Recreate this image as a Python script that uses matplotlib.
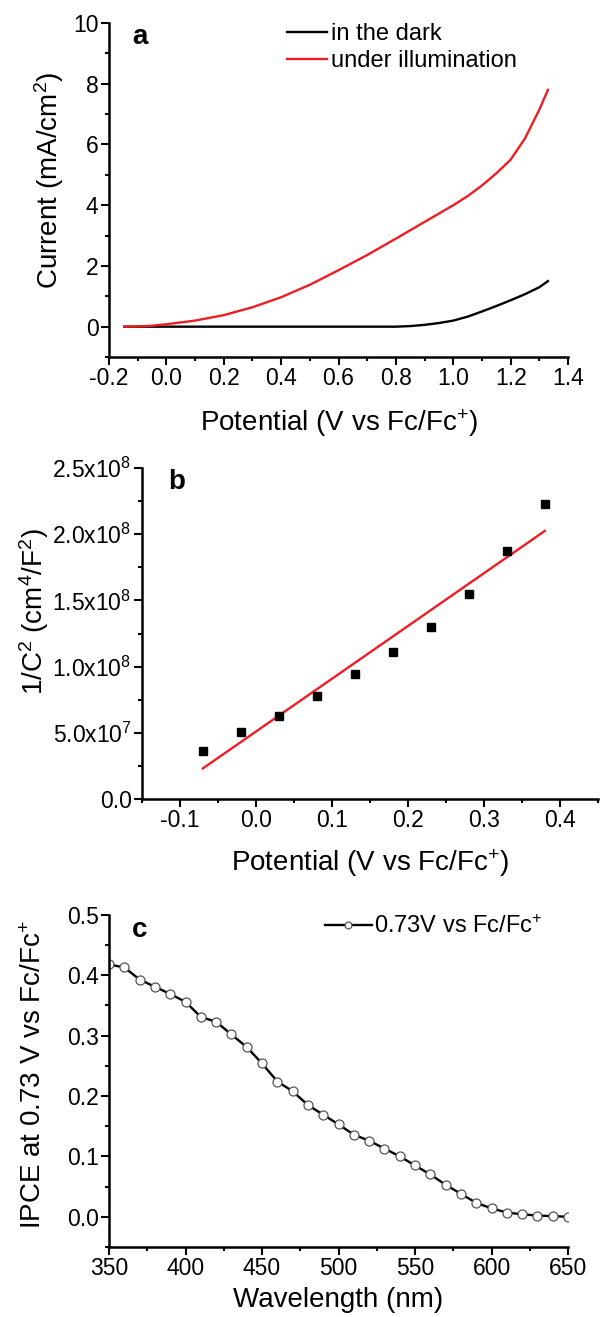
import numpy as np
import matplotlib
matplotlib.use("Agg")
import matplotlib.pyplot as plt
from matplotlib.ticker import MultipleLocator, FixedLocator, FixedFormatter

plt.rcParams['font.family'] = ['Liberation Sans', 'DejaVu Sans']
plt.rcParams['mathtext.fontset'] = 'custom'
plt.rcParams['mathtext.rm'] = 'Liberation Sans'
plt.rcParams['mathtext.it'] = 'Liberation Sans'
plt.rcParams['mathtext.default'] = 'regular'

# panel a: J-V curves
pot_light = [-0.147, -0.1, -0.05, 0.0, 0.1, 0.2, 0.3, 0.4, 0.5, 0.6, 0.7, 0.8,
             0.9, 1.0, 1.05, 1.1, 1.15, 1.2, 1.25, 1.3, 1.33]
cur_light = [0.0, 0.01, 0.03, 0.08, 0.2, 0.38, 0.64, 0.97, 1.38, 1.86, 2.36, 2.9,
             3.45, 4.0, 4.3, 4.65, 5.05, 5.5, 6.2, 7.15, 7.8]
pot_dark = [-0.147, 0.0, 0.2, 0.4, 0.6, 0.8, 0.85, 0.9, 0.95, 1.0, 1.05, 1.1,
            1.15, 1.2, 1.25, 1.3, 1.33]
cur_dark = [0.0, 0.0, 0.0, 0.0, 0.0, 0.0, 0.02, 0.06, 0.12, 0.2, 0.33, 0.5,
            0.68, 0.87, 1.07, 1.3, 1.5]

# panel b: Mott-Schottky
ms_pot = [-0.07, -0.02, 0.03, 0.08, 0.13, 0.18, 0.23, 0.28, 0.33, 0.38]
ms_inv_c2 = [0.366e8, 0.505e8, 0.63e8, 0.78e8, 0.948e8, 1.107e8, 1.30e8, 1.55e8, 1.876e8, 2.23e8]
fit_pot = [-0.07, 0.38]
fit_inv_c2 = [0.231e8, 2.025e8]
b_ticks = [0.0, 0.5e8, 1.0e8, 1.5e8, 2.0e8, 2.5e8]
b_ticklabels = ['0.0', '5.0x10$^7$', '1.0x10$^8$', '1.5x10$^8$', '2.0x10$^8$', '2.5x10$^8$']

# panel c: IPCE spectrum
wavelength = list(range(350, 651, 10))
ipce = [0.418, 0.413, 0.393, 0.381, 0.369, 0.356, 0.331, 0.323, 0.302, 0.281,
        0.254, 0.224, 0.208, 0.185, 0.169, 0.153, 0.136, 0.126, 0.113, 0.100,
        0.085, 0.070, 0.053, 0.038, 0.023, 0.014, 0.007, 0.004, 0.002, 0.001, 0.0]

RED = '#ee1d23'
TICK_FS = 16.5
LABEL_FS = 20
LEG_FS = 17


def style_axes(ax):
    for side in ('top', 'right'):
        ax.spines[side].set_visible(False)
    for side in ('left', 'bottom'):
        ax.spines[side].set_linewidth(1.8)
    ax.tick_params(which='major', direction='out', length=5.5, width=1.5,
                   labelsize=TICK_FS, pad=2)
    ax.tick_params(which='minor', direction='out', length=3.2, width=1.5)


fig = plt.figure(figsize=(6.0, 13.17), dpi=100)

# ---- a ----
ax1 = fig.add_axes([0.1817, 0.7289, 0.765, 0.2536])
ax1.plot(pot_dark, cur_dark, color='black', lw=1.7, label='in the dark')
ax1.plot(pot_light, cur_light, color=RED, lw=1.7, label='under illumination')
ax1.set_xlim(-0.2, 1.4)
ax1.set_ylim(-1, 10)
ax1.xaxis.set_major_locator(MultipleLocator(0.2))
ax1.xaxis.set_minor_locator(MultipleLocator(0.1))
ax1.yaxis.set_major_locator(MultipleLocator(2))
ax1.yaxis.set_minor_locator(MultipleLocator(1))
ax1.xaxis.set_major_formatter(lambda v, p: f'{v:.1f}')
style_axes(ax1)
ax1.set_xlabel('Potential (V vs Fc/Fc$^{+}$)', fontsize=LABEL_FS)
ax1.set_ylabel('Current (mA/cm$^{2}$)', fontsize=LABEL_FS)
ax1.xaxis.set_label_coords(0.5, -0.15)
ax1.yaxis.set_label_coords(-0.094, 0.53)
ax1.text(0.0675, 0.958, 'a', transform=ax1.transAxes, fontsize=20,
         fontweight='bold', ha='center', va='center')
ax1.legend(loc='upper left', bbox_to_anchor=(0.388, 1.0), frameon=False,
           fontsize=LEG_FS, handlelength=1.7, handletextpad=0.15,
           borderpad=0, borderaxespad=0, labelspacing=0.2)

# ---- b ----
ax2 = fig.add_axes([0.2367, 0.3933, 0.76, 0.2513])
ax2.plot(fit_pot, fit_inv_c2, color=RED, lw=1.7)
ax2.plot(ms_pot, ms_inv_c2, 's', color='black', ms=5.8)
ax2.set_xlim(-0.15, 0.45)
ax2.set_ylim(0, 2.5e8)
ax2.xaxis.set_major_locator(MultipleLocator(0.1))
ax2.xaxis.set_minor_locator(MultipleLocator(0.05))
ax2.yaxis.set_major_locator(FixedLocator(b_ticks))
ax2.yaxis.set_major_formatter(FixedFormatter(b_ticklabels))
ax2.yaxis.set_minor_locator(MultipleLocator(0.25e8))
ax2.xaxis.set_major_formatter(lambda v, p: f'{v:.1f}')
style_axes(ax2)
ax2.set_xlabel('Potential (V vs Fc/Fc$^{+}$)', fontsize=LABEL_FS)
ax2.set_ylabel('1/C$^{2}$ (cm$^{4}$/F$^{2}$)', fontsize=LABEL_FS)
ax2.xaxis.set_label_coords(0.5, -0.145)
ax2.yaxis.set_label_coords(-0.2, 0.565)
ax2.text(0.077, 0.958, 'b', transform=ax2.transAxes, fontsize=20,
         fontweight='bold', ha='center', va='center')

# ---- c ----
ax3 = fig.add_axes([0.1817, 0.0532, 0.765, 0.2521])
ax3.plot(wavelength, ipce, '-o', color='black', lw=1.7, ms=6.5,
         mfc='white', mec='#555555', mew=0.9, label='0.73V vs Fc/Fc$^{+}$')
ax3.set_xlim(350, 650)
ax3.set_ylim(-0.05, 0.5)
ax3.xaxis.set_major_locator(MultipleLocator(50))
ax3.xaxis.set_minor_locator(MultipleLocator(25))
ax3.yaxis.set_major_locator(MultipleLocator(0.1))
ax3.yaxis.set_minor_locator(MultipleLocator(0.05))
ax3.yaxis.set_major_formatter(lambda v, p: f'{v:.1f}')
style_axes(ax3)
ax3.set_xlabel('Wavelength (nm)', fontsize=LABEL_FS)
ax3.set_ylabel('IPCE at 0.73 V vs Fc/Fc$^{+}$', fontsize=LABEL_FS)
ax3.xaxis.set_label_coords(0.5, -0.12)
ax3.yaxis.set_label_coords(-0.135, 0.518)
ax3.text(0.0675, 0.955, 'c', transform=ax3.transAxes, fontsize=20,
         fontweight='bold', ha='center', va='center')
ax3.legend(loc='upper left', bbox_to_anchor=(0.47, 1.0), frameon=False,
           fontsize=LEG_FS, handlelength=2.0, handletextpad=0.1,
           borderpad=0, borderaxespad=0, numpoints=1, markerscale=0.75)

fig.savefig('out.png', dpi=100)
